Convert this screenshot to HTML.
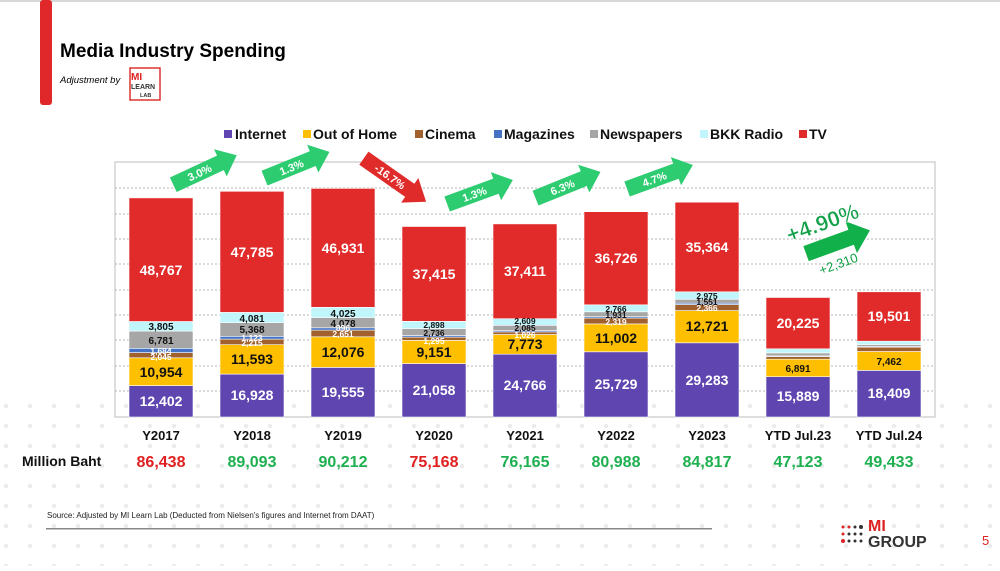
<!DOCTYPE html>
<html><head><meta charset="utf-8"><style>
html,body{margin:0;padding:0;background:#fff;}
body{width:1000px;height:566px;overflow:hidden;font-family:"Liberation Sans",Arial,sans-serif;}
</style></head><body>
<svg width="1000" height="566" viewBox="0 0 1000 566" xmlns="http://www.w3.org/2000/svg" font-family="Liberation Sans, Arial, sans-serif">
<defs>
<pattern id="dots" width="24" height="20" patternUnits="userSpaceOnUse"><circle cx="6" cy="6" r="2.2" fill="#e6e6e6"/></pattern>
</defs>
<rect width="1000" height="566" fill="#fff"/>
<rect x="0" y="400" width="1000" height="166" fill="url(#dots)" opacity="0.8"/>
<rect x="0" y="0" width="1000" height="2" fill="#d8d8d8"/>
<rect x="40" y="0" width="12" height="105" rx="3" fill="#e0282a"/>
<text x="60" y="57" font-size="19" font-weight="bold" fill="#000">Media Industry Spending</text>
<text x="60" y="83" font-size="9.5" font-style="italic" fill="#000">Adjustment by</text>
<rect x="130" y="68" width="30" height="32" fill="#fff" stroke="#d33" stroke-width="1.5"/>
<text x="131" y="80" font-size="10" font-weight="bold" fill="#d22">MI</text>
<text x="131" y="89" font-size="7" font-weight="bold" fill="#333">LEARN</text>
<text x="140" y="97" font-size="5.5" font-weight="bold" fill="#333">LAB</text>

<!-- legend -->
<g font-size="14" font-weight="bold" fill="#111">
<rect x="224" y="130" width="8" height="8" fill="#5f45b0"/><text x="235" y="139">Internet</text>
<rect x="303" y="130" width="8" height="8" fill="#fdbf00"/><text x="313" y="139">Out of Home</text>
<rect x="415" y="130" width="8" height="8" fill="#a0612f"/><text x="425" y="139">Cinema</text>
<rect x="494" y="130" width="8" height="8" fill="#4472c4"/><text x="504" y="139">Magazines</text>
<rect x="590" y="130" width="8" height="8" fill="#a6a6a6"/><text x="600" y="139">Newspapers</text>
<rect x="700" y="130" width="8" height="8" fill="#c0f6fb"/><text x="710" y="139">BKK Radio</text>
<rect x="799" y="130" width="8" height="8" fill="#e12b2b"/><text x="809" y="139">TV</text>
</g>

<!-- plot frame and grid -->
<rect x="115" y="162" width="820" height="255" fill="none" stroke="#c8c8c8" stroke-width="1.2"/>
<g stroke="#b5b5b5" stroke-dasharray="2,2" stroke-width="1">
<line x1="115" y1="188" x2="935" y2="188"/><line x1="115" y1="214" x2="935" y2="214"/>
<line x1="115" y1="239" x2="935" y2="239"/><line x1="115" y1="264" x2="935" y2="264"/>
<line x1="115" y1="290" x2="935" y2="290"/><line x1="115" y1="315" x2="935" y2="315"/>
<line x1="115" y1="340" x2="935" y2="340"/><line x1="115" y1="366" x2="935" y2="366"/>
<line x1="115" y1="391" x2="935" y2="391"/>
</g>

<g stroke="#fff" stroke-width="0.6">
<!-- 2017 -->
<rect x="129" y="385.6" width="64" height="31.4" fill="#5f45b0"/>
<rect x="129" y="357.8" width="64" height="27.8" fill="#fdbf00"/>
<rect x="129" y="352.6" width="64" height="5.2" fill="#a0612f"/>
<rect x="129" y="348.3" width="64" height="4.3" fill="#4472c4"/>
<rect x="129" y="331.1" width="64" height="17.2" fill="#a6a6a6"/>
<rect x="129" y="321.5" width="64" height="9.6" fill="#c0f6fb"/>
<rect x="129" y="197.9" width="64" height="123.6" fill="#e12b2b"/>
<!-- 2018 -->
<rect x="220" y="374.1" width="64" height="42.9" fill="#5f45b0"/>
<rect x="220" y="344.7" width="64" height="29.4" fill="#fdbf00"/>
<rect x="220" y="339.1" width="64" height="5.6" fill="#a0612f"/>
<rect x="220" y="336.3" width="64" height="2.8" fill="#4472c4"/>
<rect x="220" y="322.7" width="64" height="13.6" fill="#a6a6a6"/>
<rect x="220" y="312.4" width="64" height="10.3" fill="#c0f6fb"/>
<rect x="220" y="191.3" width="64" height="121.1" fill="#e12b2b"/>
<!-- 2019 -->
<rect x="311" y="367.4" width="64" height="49.6" fill="#5f45b0"/>
<rect x="311" y="336.8" width="64" height="30.6" fill="#fdbf00"/>
<rect x="311" y="330.1" width="64" height="6.7" fill="#a0612f"/>
<rect x="311" y="327.8" width="64" height="2.3" fill="#4472c4"/>
<rect x="311" y="317.5" width="64" height="10.3" fill="#a6a6a6"/>
<rect x="311" y="307.3" width="64" height="10.2" fill="#c0f6fb"/>
<rect x="311" y="188.4" width="64" height="118.9" fill="#e12b2b"/>
<!-- 2020 -->
<rect x="402" y="363.6" width="64" height="53.4" fill="#5f45b0"/>
<rect x="402" y="340.4" width="64" height="23.2" fill="#fdbf00"/>
<rect x="402" y="337.1" width="64" height="3.3" fill="#a0612f"/>
<rect x="402" y="335.5" width="64" height="1.6" fill="#4472c4"/>
<rect x="402" y="328.6" width="64" height="6.9" fill="#a6a6a6"/>
<rect x="402" y="321.3" width="64" height="7.3" fill="#c0f6fb"/>
<rect x="402" y="226.5" width="64" height="94.8" fill="#e12b2b"/>
<!-- 2021 -->
<rect x="493" y="354.2" width="64" height="62.8" fill="#5f45b0"/>
<rect x="493" y="334.5" width="64" height="19.7" fill="#fdbf00"/>
<rect x="493" y="331.9" width="64" height="2.6" fill="#a0612f"/>
<rect x="493" y="330.6" width="64" height="1.3" fill="#4472c4"/>
<rect x="493" y="325.3" width="64" height="5.3" fill="#a6a6a6"/>
<rect x="493" y="318.7" width="64" height="6.6" fill="#c0f6fb"/>
<rect x="493" y="223.9" width="64" height="94.8" fill="#e12b2b"/>
<!-- 2022 -->
<rect x="584" y="351.8" width="64" height="65.2" fill="#5f45b0"/>
<rect x="584" y="323.9" width="64" height="27.9" fill="#fdbf00"/>
<rect x="584" y="318.0" width="64" height="5.9" fill="#a0612f"/>
<rect x="584" y="316.7" width="64" height="1.3" fill="#4472c4"/>
<rect x="584" y="311.8" width="64" height="4.9" fill="#a6a6a6"/>
<rect x="584" y="304.8" width="64" height="7.0" fill="#c0f6fb"/>
<rect x="584" y="211.7" width="64" height="93.1" fill="#e12b2b"/>
<!-- 2023 -->
<rect x="675" y="342.8" width="64" height="74.2" fill="#5f45b0"/>
<rect x="675" y="310.6" width="64" height="32.2" fill="#fdbf00"/>
<rect x="675" y="304.6" width="64" height="6.0" fill="#a0612f"/>
<rect x="675" y="303.2" width="64" height="1.4" fill="#4472c4"/>
<rect x="675" y="299.3" width="64" height="3.9" fill="#a6a6a6"/>
<rect x="675" y="291.8" width="64" height="7.5" fill="#c0f6fb"/>
<rect x="675" y="202.2" width="64" height="89.6" fill="#e12b2b"/>
<!-- YTD23 -->
<rect x="766" y="376.7" width="64" height="40.3" fill="#5f45b0"/>
<rect x="766" y="359.2" width="64" height="17.5" fill="#fdbf00"/>
<rect x="766" y="356.7" width="64" height="2.5" fill="#a0612f"/>
<rect x="766" y="355.9" width="64" height="0.8" fill="#4472c4"/>
<rect x="766" y="352.9" width="64" height="3.0" fill="#a6a6a6"/>
<rect x="766" y="348.8" width="64" height="4.1" fill="#c0f6fb"/>
<rect x="766" y="297.5" width="64" height="51.3" fill="#e12b2b"/>
<!-- YTD24 -->
<rect x="857" y="370.4" width="64" height="46.6" fill="#5f45b0"/>
<rect x="857" y="351.5" width="64" height="18.9" fill="#fdbf00"/>
<rect x="857" y="347.2" width="64" height="4.3" fill="#a0612f"/>
<rect x="857" y="346.4" width="64" height="0.8" fill="#4472c4"/>
<rect x="857" y="344.6" width="64" height="1.8" fill="#a6a6a6"/>
<rect x="857" y="341.2" width="64" height="3.4" fill="#c0f6fb"/>
<rect x="857" y="291.8" width="64" height="49.4" fill="#e12b2b"/>
</g>

<!-- bar labels -->
<g font-weight="bold" text-anchor="middle">
<g font-size="14" fill="#fff">
<text x="161" y="406">12,402</text><text x="252" y="400">16,928</text><text x="343" y="397">19,555</text>
<text x="434" y="395">21,058</text><text x="525" y="390">24,766</text><text x="616" y="389">25,729</text>
<text x="707" y="385">29,283</text><text x="798" y="401">15,889</text><text x="889" y="398">18,409</text>
<text x="161" y="275">48,767</text><text x="252" y="257">47,785</text><text x="343" y="253">46,931</text>
<text x="434" y="279">37,415</text><text x="525" y="276">37,411</text><text x="616" y="263">36,726</text>
<text x="707" y="252">35,364</text><text x="798" y="328">20,225</text><text x="889" y="321">19,501</text>
</g>
<g font-size="14" fill="#111">
<text x="161" y="377">10,954</text><text x="252" y="364">11,593</text><text x="343" y="357">12,076</text>
<text x="434" y="357">9,151</text><text x="525" y="349">7,773</text><text x="616" y="343">11,002</text>
<text x="707" y="331">12,721</text>
</g>
<g font-size="10" fill="#111">
<text x="798" y="372">6,891</text><text x="889" y="365">7,462</text>
<text x="161" y="330">3,805</text><text x="161" y="344">6,781</text>
<text x="252" y="322">4,081</text><text x="252" y="333">5,368</text>
<text x="343" y="317">4,025</text><text x="343" y="327">4,078</text>
</g>
<g font-size="8.5" fill="#111">
<text x="434" y="328">2,898</text><text x="434" y="336">2,736</text>
<text x="525" y="324">2,609</text><text x="525" y="331">2,085</text>
<text x="616" y="312">2,766</text><text x="616" y="318">1,931</text>
<text x="707" y="299">2,975</text><text x="707" y="305">1,551</text>
</g>
<g font-size="8.5" fill="#fff">
<text x="161" y="354">1,684</text><text x="161" y="360">2,045</text>
<text x="252" y="341">1,123</text><text x="252" y="346">2,215</text>
<text x="343" y="331">896</text><text x="343" y="337">2,651</text>
<text x="434" y="344">1,295</text><text x="525" y="338">1,026</text>
<text x="616" y="325">2,319</text><text x="707" y="311">2,366</text>
</g>
</g>

<!-- arrows -->
<g font-weight="bold" font-size="11" fill="#fff" text-anchor="middle">
<g transform="translate(205,170) rotate(-25)"><polygon points="-35,-8 17,-8 17,-15 35,0 17,15 17,8 -35,8" fill="#2ecc71"/><text x="-6" y="4">3.0%</text></g>
<g transform="translate(297,165) rotate(-22)"><polygon points="-35,-8 17,-8 17,-15 35,0 17,15 17,8 -35,8" fill="#2ecc71"/><text x="-6" y="4">1.3%</text></g>
<g transform="translate(395,180) rotate(35)"><polygon points="-38,-8 18,-8 18,-15 38,0 18,15 18,8 -38,8" fill="#e02b2b"/><text x="-6" y="4">-16.7%</text></g>
<g transform="translate(480,192) rotate(-20)"><polygon points="-35,-8 17,-8 17,-15 35,0 17,15 17,8 -35,8" fill="#2ecc71"/><text x="-6" y="4">1.3%</text></g>
<g transform="translate(568,185) rotate(-22)"><polygon points="-35,-8 17,-8 17,-15 35,0 17,15 17,8 -35,8" fill="#2ecc71"/><text x="-6" y="4">6.3%</text></g>
<g transform="translate(660,177) rotate(-20)"><polygon points="-35,-8 17,-8 17,-15 35,0 17,15 17,8 -35,8" fill="#2ecc71"/><text x="-6" y="4">4.7%</text></g>
</g>
<g transform="translate(838,242) rotate(-20)"><polygon points="-34,-8 14,-8 14,-17 34,0 14,17 14,8 -34,8" fill="#12b04a"/></g>
<text x="825" y="230" font-size="22" fill="#12a048" stroke="#fff" stroke-width="0.5" text-anchor="middle" transform="rotate(-20 825 230)" font-weight="bold">+4.90%</text>
<text x="840" y="268" font-size="13" fill="#12a048" text-anchor="middle" transform="rotate(-20 840 268)">+2,310</text>

<!-- x labels -->
<g font-size="13" font-weight="bold" fill="#111" text-anchor="middle">
<text x="161" y="440">Y2017</text><text x="252" y="440">Y2018</text><text x="343" y="440">Y2019</text>
<text x="434" y="440">Y2020</text><text x="525" y="440">Y2021</text><text x="616" y="440">Y2022</text>
<text x="707" y="440">Y2023</text><text x="798" y="440">YTD Jul.23</text><text x="889" y="440">YTD Jul.24</text>
</g>
<text x="22" y="466" font-size="14" font-weight="bold" fill="#111">Million Baht</text>
<g font-size="16" font-weight="bold" text-anchor="middle">
<text x="161" y="467" fill="#e02020">86,438</text><text x="252" y="467" fill="#1eb050">89,093</text>
<text x="343" y="467" fill="#1eb050">90,212</text><text x="434" y="467" fill="#e02020">75,168</text>
<text x="525" y="467" fill="#1eb050">76,165</text><text x="616" y="467" fill="#1eb050">80,988</text>
<text x="707" y="467" fill="#1eb050">84,817</text><text x="798" y="467" fill="#1eb050">47,123</text>
<text x="889" y="467" fill="#1eb050">49,433</text>
</g>

<text x="47" y="518" font-size="8" fill="#222">Source: Adjusted by MI Learn Lab (Deducted  from Nielsen's figures and Internet from DAAT)</text>
<rect x="46" y="528" width="666" height="1.5" fill="#888"/>
<g fill="#d22"><circle cx="843" cy="527" r="1.5"/><circle cx="849" cy="527" r="1.5"/><circle cx="843" cy="534" r="1.5"/><circle cx="843" cy="541" r="2"/></g>
<g fill="#333"><circle cx="855" cy="527" r="1.5"/><circle cx="861" cy="527" r="2"/><circle cx="855" cy="534" r="1.5"/><circle cx="861" cy="534" r="1.5"/><circle cx="849" cy="534" r="1.5"/><circle cx="849" cy="541" r="1.5"/><circle cx="855" cy="541" r="1.5"/><circle cx="861" cy="541" r="1.5"/></g>
<text x="868" y="531" font-size="16" font-weight="bold" fill="#d22">MI</text>
<text x="868" y="547" font-size="16" font-weight="bold" fill="#333">GROUP</text>
<text x="982" y="545" font-size="13" fill="#d22">5</text>
</svg>
</body></html>
